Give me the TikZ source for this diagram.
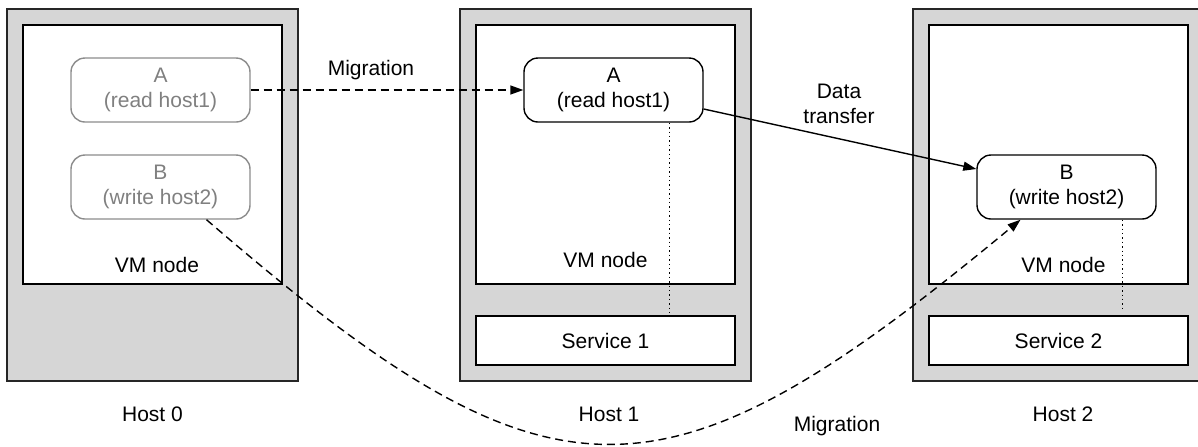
\documentclass[tikz,border=0pt]{standalone}
\usepackage{fontspec}
\setmainfont{Liberation Sans}
\usetikzlibrary{arrows.meta,positioning}
\definecolor{hostgray}{HTML}{D6D6D6}

\begin{document}
\begin{tikzpicture}[x=0.5pt,y=-0.5pt,>={Triangle[length=6.5pt,width=4.5pt]},line width=0.7pt,font=\fontsize{10.5}{12.5}\selectfont]
\tikzstyle{host}=[draw=black!85,fill=hostgray,minimum width=145.5pt,minimum height=186pt,inner sep=0pt]
\tikzstyle{vm}=[draw=black,fill=white,minimum width=129.5pt,minimum height=129.5pt,inner sep=0pt]
\tikzstyle{service}=[draw=black,fill=white,minimum width=129.5pt,minimum height=24.5pt,inner sep=0pt]
\tikzstyle{proc}=[draw=black,fill=white,rounded corners=7pt,align=center,minimum width=89.5pt,minimum height=32pt,inner sep=0pt]
\tikzstyle{ghost}=[proc,draw=black!45,text=black!50]
\tikzstyle{migr}=[->,dash pattern=on 4pt off 2.5pt]
\tikzstyle{link}=[dash pattern=on 0.7pt off 1.5pt]
\clip (0,0) rectangle (1198,446);

% hosts
\node[host] (h0) at (152.5,195) {};
\node[host] (h1) at (605.5,195) {};
\node[host] (h2) at (1058.5,195) {};

\node[vm] (vm0) at (152.5,154.5) {};
\node[vm] (vm1) at (605.5,154.5) {};
\node[vm] (vm2) at (1058.5,154.5) {};

\node[service] (s1) at (605.5,340.5) {Service 1};
\node[service] (s2) at (1058.5,340.5) {Service 2};

\node (t0) at (157,265) {VM node};
\node (t1) at (605.5,260) {VM node};
\node (t2) at (1063.5,265) {VM node};

\node (l0) at (152.5,414) {Host 0};
\node (l1) at (609,414) {Host 1};
\node (l2) at (1063,414) {Host 2};

% processes
\node[ghost] (a0) at (160.5,90) {A\\(read host1)};
\node[ghost] (b0) at (160.5,187) {B\\(write host2)};
\node[proc] (a1) at (613.5,90) {A\\(read host1)};
\node[proc] (b2) at (1066.5,187) {B\\(write host2)};

% connectors
\draw[migr] (a0.east) -- (a1.west);
\node (m1) at (371,70) {Migration};

\draw[->] ([yshift=-9.5pt]a1.east) -- ([yshift=9pt]b2.west);
\node[align=center] (dt) at (839,104) {Data\\transfer};

\draw[migr] ([xshift=23pt]b0.south) .. controls (552,518) and (661,518) .. ([xshift=-23pt]b2.south);
\node (m2) at (837,426) {Migration};

\draw[link] ([xshift=28pt]a1.south) -- ([xshift=28pt]a1.south |- s1.north);
\draw[link] ([xshift=28pt]b2.south) -- ([xshift=28pt,yshift=2pt]b2.south |- s2.north);
\end{tikzpicture}
\end{document}
